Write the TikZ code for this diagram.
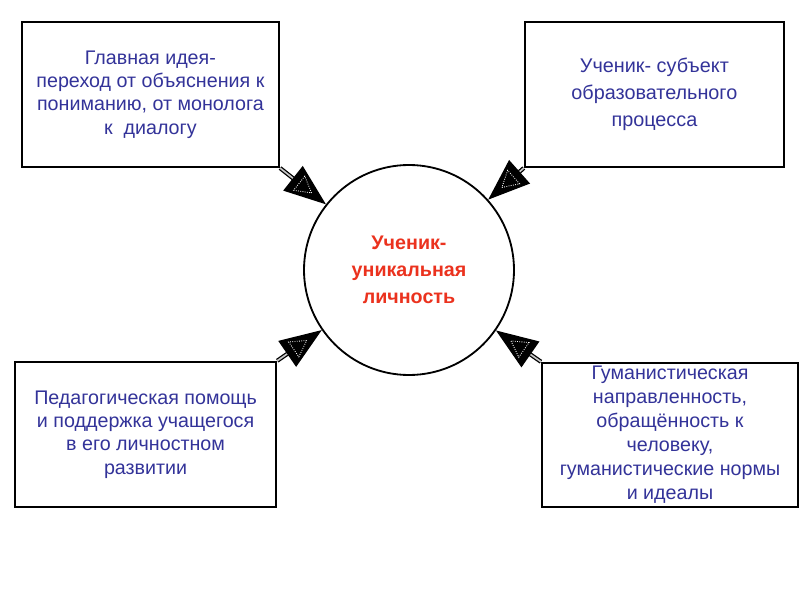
\documentclass[tikz,border=0pt]{standalone}
\usepackage{fontspec}
\setmainfont{Liberation Sans}
\usetikzlibrary{arrows.meta, calc, shapes.geometric, decorations.markings}

\definecolor{boxtext}{RGB}{51,51,153}
\definecolor{hubtext}{RGB}{235,50,30}

\begin{document}
\begin{tikzpicture}[
    topicbox/.style={draw, line width=1.5pt, align=center, text=boxtext, inner sep=0pt},
    hubcircle/.style={draw, circle, line width=1.3pt, minimum size=5.25cm, align=center, text=hubtext},
    feedarrow/.style={line width=0.9pt, double=gray!45, double distance=1.2pt,
      -{Triangle[length=10.5mm, width=7.8mm]}},
    innertri/.style={isosceles triangle, isosceles triangle apex angle=60, draw=white,
      densely dotted, line width=0.6pt, inner sep=0pt, minimum height=3.9mm, transform shape},
    tipmark/.style={decorate, decoration={markings, mark=at position -7.2mm with {\node[innertri] {};}}}
  ]

  % --- page frame (800 x 600) ---
  \useasboundingbox[fill=white] (0,0) rectangle (20,15);

  % --- centre: the pupil ---
  \node[hubcircle, font=\fontsize{14}{19}\selectfont\bfseries] (hub) at (10.225,8.25)
    {Ученик-\\уникальная\\личность};

  % --- four boxes round it ---
  \node[topicbox, minimum width=6.43cm, minimum height=3.63cm, font=\fontsize{14}{16.6}\selectfont]
    (idea) at (3.76,12.64)
    {Главная идея-\\переход от объяснения к\\пониманию, от монолога\\к\ \ диалогу};
  \node[topicbox, minimum width=6.48cm, minimum height=3.63cm, font=\fontsize{14.1}{19}\selectfont]
    (subject) at (16.36,12.64)
    {Ученик- субъект\\образовательного\\процесса};
  \node[topicbox, minimum width=6.53cm, minimum height=3.63cm, font=\fontsize{14}{16.6}\selectfont]
    (help) at (3.64,4.14)
    {Педагогическая помощь\\и поддержка учащегося\\в его личностном\\развитии};
  \node[topicbox, minimum width=6.4cm, minimum height=3.6cm, font=\fontsize{14}{17}\selectfont]
    (humanism) at (16.75,4.13)
    {Гуманистическая\\направленность,\\обращённость к\\человеку,\\гуманистические нормы\\и идеалы};

  % --- arrows from box corners into the circle ---
  \foreach \src in {idea.south east, subject.south west, help.north east, humanism.north west}{
    \draw[feedarrow] (\src) -- (hub);
    \path[tipmark] (\src) -- (hub);
  }

\end{tikzpicture}
\end{document}
